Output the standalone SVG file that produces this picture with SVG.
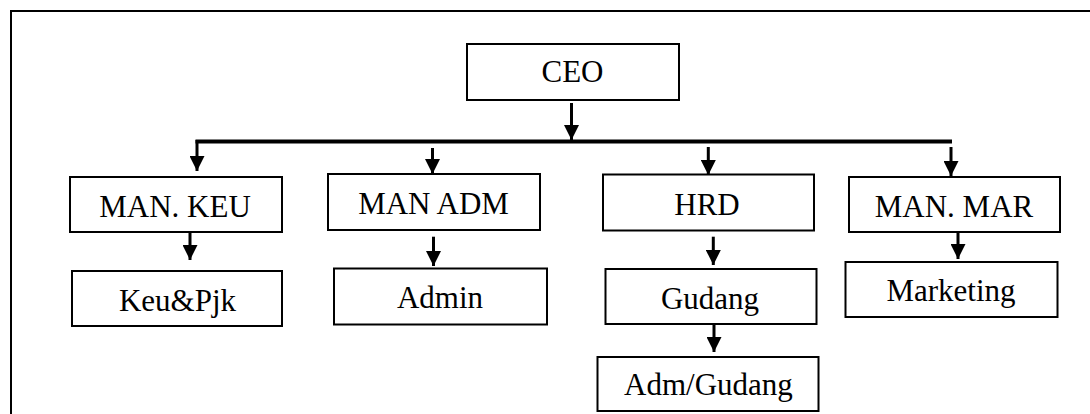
<svg xmlns="http://www.w3.org/2000/svg" width="1090" height="414" viewBox="0 0 1090 414">
<style>
.box{fill:#fff;stroke:#000;stroke-width:2}
.lbl{font-size:31px;fill:#000;text-anchor:middle}
.arr{stroke:#000;stroke-width:3;fill:none;marker-end:url(#ah)}
</style>
<defs>
<marker id="ah" viewBox="0 0 15 15" refX="15" refY="7.5" markerWidth="15" markerHeight="15" markerUnits="userSpaceOnUse" orient="auto">
<path d="M0,0 L15,7.5 L0,15 z" fill="#000"/>
</marker>
</defs>
<rect x="0" y="0" width="1090" height="414" fill="#fff"/>
<rect x="11" y="11" width="1100" height="420" fill="none" stroke="#000" stroke-width="2"/>
<g id="connectors">
<line class="arr" x1="571.5" y1="103" x2="571.5" y2="140"/>
<line x1="195.5" y1="141.5" x2="952" y2="141.5" stroke="#000" stroke-width="4"/>
<line class="arr" x1="197" y1="140" x2="197" y2="171"/>
<line class="arr" x1="432.5" y1="148" x2="432.5" y2="174"/>
<line class="arr" x1="708.3" y1="147" x2="708.3" y2="175"/>
<line class="arr" x1="951" y1="147" x2="951" y2="176"/>
<line class="arr" x1="190" y1="232" x2="190" y2="260"/>
<line class="arr" x1="433.5" y1="236.7" x2="433.5" y2="266"/>
<line class="arr" x1="713.3" y1="236.7" x2="713.3" y2="265"/>
<line class="arr" x1="714" y1="324" x2="714" y2="352"/>
<line class="arr" x1="958" y1="229" x2="958" y2="259"/>
</g>
<g font-family="Liberation Serif, Times New Roman, serif">
<g id="ceo"><rect class="box" x="467" y="44" width="212" height="56"/><text class="lbl" x="572.5" y="82">CEO</text></g>
<g id="man-keu"><rect class="box" x="70" y="177" width="212" height="55"/><text class="lbl" x="175" y="217">MAN. KEU</text></g>
<g id="man-adm"><rect class="box" x="328" y="174" width="212" height="56"/><text class="lbl" x="433.5" y="213.5">MAN ADM</text></g>
<g id="hrd"><rect class="box" x="603" y="174.5" width="211" height="56"/><text class="lbl" x="707" y="215">HRD</text></g>
<g id="man-mar"><rect class="box" x="849" y="177" width="211" height="55"/><text class="lbl" x="954" y="217">MAN. MAR</text></g>
<g id="keu-pjk"><rect class="box" x="72" y="271" width="210" height="55"/><text class="lbl" x="177.5" y="310.5">Keu&amp;Pjk</text></g>
<g id="admin"><rect class="box" x="334" y="268.5" width="213" height="56"/><text class="lbl" x="440" y="308">Admin</text></g>
<g id="gudang"><rect class="box" x="605.5" y="269" width="211" height="55"/><text class="lbl" x="710" y="308.5">Gudang</text></g>
<g id="marketing"><rect class="box" x="845.5" y="262" width="212" height="55"/><text class="lbl" x="951" y="301">Marketing</text></g>
<g id="adm-gudang"><rect class="box" x="597.5" y="357" width="221" height="54"/><text class="lbl" x="708.5" y="395">Adm/Gudang</text></g>
</g>
</svg>
